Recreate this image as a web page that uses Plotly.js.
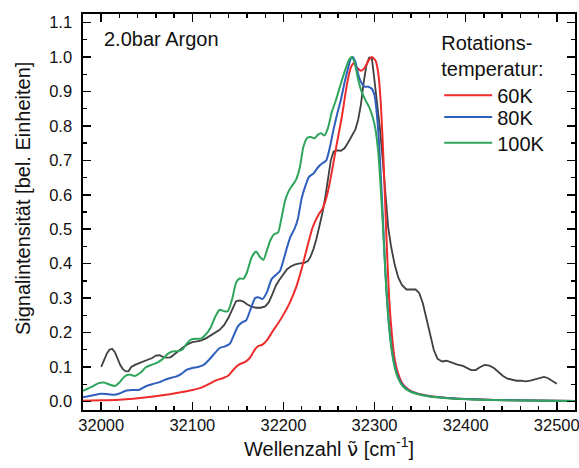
<!DOCTYPE html>
<html>
<head>
<meta charset="utf-8">
<script src="https://cdn.plot.ly/plotly-3.0.1.min.js"></script>
<style>
  html, body { margin: 0; padding: 0; background: #fff; }
  #chart { width: 579px; height: 468px; }
</style>
</head>
<body>
<div id="chart"></div>
<script>
// Measured spectrum (wavenumber in cm^-1, normalised signal)
const nuMeas = [32000,32003,32006,32009,32012,32015,32018,32021,32024,32027,32030,32033,32037,32042,32047,32051,32056,32060,32064,32068,32072,32076,32080,32085,32090,32095,32100,32105,32110,32115,32120,32125,32130,32135,32140,32144,32148,32152,32156,32160,32165,32170,32175,32180,32184,32188,32192,32196,32200,32204,32208,32213,32218,32223,32227,32230,32233,32236,32240,32243,32246,32249,32252,32255,32259,32263,32267,32271,32275,32279,32282,32285,32288,32291,32294,32297,32300,32303,32306,32309,32312,32315,32318,32322,32326,32330,32335,32340,32345,32349,32353,32357,32361,32365,32369,32374,32379,32385,32391,32397,32402,32406,32411,32416,32421,32426,32431,32436,32441,32446,32451,32456,32461,32466,32471,32476,32481,32486,32490,32495,32500];
const intMeas = [0.100,0.120,0.138,0.150,0.153,0.143,0.123,0.105,0.093,0.087,0.088,0.100,0.106,0.112,0.116,0.121,0.126,0.133,0.134,0.129,0.127,0.128,0.136,0.147,0.157,0.166,0.172,0.174,0.177,0.183,0.191,0.199,0.208,0.222,0.245,0.268,0.291,0.293,0.290,0.282,0.275,0.272,0.272,0.276,0.288,0.312,0.338,0.355,0.368,0.384,0.392,0.398,0.401,0.402,0.408,0.422,0.443,0.470,0.515,0.550,0.595,0.645,0.700,0.726,0.729,0.728,0.735,0.752,0.770,0.790,0.818,0.862,0.925,0.975,0.998,0.998,0.930,0.860,0.790,0.700,0.590,0.505,0.452,0.398,0.360,0.338,0.325,0.326,0.325,0.315,0.285,0.240,0.190,0.150,0.124,0.116,0.118,0.112,0.107,0.103,0.097,0.091,0.091,0.100,0.106,0.104,0.097,0.085,0.074,0.066,0.062,0.060,0.060,0.058,0.060,0.064,0.068,0.071,0.068,0.060,0.051];

// Simulated spectra for three rotational temperatures
const nu60 = [31980,32000,32020,32035,32050,32065,32080,32090,32100,32110,32118,32126,32134,32140,32146,32152,32158,32163,32168,32172,32177,32182,32188,32194,32200,32207,32214,32220,32226,32232,32238,32243,32248,32253,32258,32264,32270,32274,32277,32281,32285,32289,32293,32297,32301,32304,32307,32310,32313,32316,32319,32322,32326,32331,32338,32346,32360,32380,32410,32450,32520];
const int60 = [0.002,0.003,0.005,0.008,0.012,0.017,0.023,0.028,0.033,0.040,0.050,0.061,0.068,0.076,0.095,0.108,0.115,0.126,0.148,0.160,0.165,0.178,0.203,0.226,0.252,0.287,0.332,0.385,0.447,0.505,0.540,0.560,0.600,0.665,0.740,0.825,0.925,0.970,0.982,0.968,0.960,0.968,0.988,1.000,0.990,0.955,0.860,0.690,0.480,0.300,0.195,0.125,0.080,0.050,0.033,0.024,0.016,0.010,0.006,0.003,0.001];

const nu80 = [31980,31990,32000,32008,32014,32020,32027,32035,32042,32049,32056,32064,32070,32076,32082,32088,32094,32100,32106,32112,32118,32124,32130,32136,32141,32146,32150,32155,32159,32164,32169,32173,32177,32182,32187,32192,32196,32200,32204,32208,32212,32216,32220,32224,32228,32233,32238,32243,32247,32251,32255,32259,32263,32267,32271,32274,32276,32279,32282,32285,32289,32293,32297,32300,32303,32306,32309,32312,32315,32318,32321,32325,32330,32337,32345,32360,32380,32410,32450,32520];
const int80 = [0.012,0.017,0.022,0.021,0.019,0.023,0.031,0.033,0.034,0.044,0.050,0.056,0.063,0.068,0.072,0.080,0.092,0.097,0.100,0.105,0.120,0.138,0.155,0.160,0.167,0.195,0.218,0.230,0.235,0.268,0.300,0.302,0.297,0.318,0.355,0.368,0.378,0.410,0.448,0.480,0.500,0.532,0.590,0.625,0.652,0.662,0.680,0.692,0.700,0.738,0.790,0.835,0.875,0.925,0.968,0.996,1.000,0.985,0.950,0.928,0.914,0.914,0.908,0.888,0.820,0.700,0.540,0.370,0.250,0.170,0.118,0.078,0.050,0.033,0.024,0.015,0.010,0.006,0.003,0.001];

const nu100 = [31980,31990,31997,32003,32009,32015,32020,32026,32031,32037,32043,32049,32055,32061,32067,32073,32078,32084,32089,32094,32099,32105,32110,32115,32120,32125,32130,32135,32139,32144,32148,32152,32156,32160,32165,32170,32174,32178,32182,32186,32190,32194,32198,32202,32206,32210,32214,32218,32222,32226,32230,32234,32238,32241,32245,32249,32253,32257,32261,32265,32269,32272,32275,32278,32282,32286,32290,32294,32298,32301,32304,32307,32310,32313,32316,32319,32322,32326,32331,32338,32346,32360,32380,32410,32450,32520];
const int100 = [0.031,0.043,0.053,0.055,0.049,0.045,0.055,0.073,0.078,0.074,0.083,0.099,0.106,0.112,0.122,0.138,0.145,0.146,0.150,0.168,0.180,0.182,0.183,0.195,0.214,0.245,0.266,0.262,0.262,0.300,0.345,0.357,0.356,0.375,0.418,0.435,0.420,0.411,0.440,0.470,0.486,0.490,0.535,0.585,0.612,0.628,0.645,0.680,0.740,0.765,0.768,0.764,0.775,0.779,0.772,0.795,0.840,0.870,0.905,0.940,0.972,0.992,1.000,0.985,0.935,0.898,0.875,0.855,0.825,0.790,0.725,0.610,0.470,0.320,0.215,0.145,0.100,0.066,0.044,0.030,0.022,0.014,0.009,0.005,0.003,0.001];

const seriesNames = ['60K', '80K', '100K'];
const xTickVals = [32000, 32100, 32200, 32300, 32400, 32500];

const FONT = 'Arial, "Liberation Sans", sans-serif';
const TEXT = '#111';

const traces = [
  { x: nuMeas, y: intMeas, type: 'scatter', mode: 'lines', showlegend: false,
    line: { color: '#404040', width: 1.8 }, hoverinfo: 'skip' },
  { x: nu60, y: int60, type: 'scatter', mode: 'lines', name: seriesNames[0], legend: 'legend',
    line: { color: '#ee2b2b', width: 2, shape: 'spline', smoothing: 0.6 } },
  { x: nu80, y: int80, type: 'scatter', mode: 'lines', name: seriesNames[1], legend: 'legend2',
    line: { color: '#2f5fbd', width: 2, shape: 'spline', smoothing: 0.6 } },
  { x: nu100, y: int100, type: 'scatter', mode: 'lines', name: seriesNames[2], legend: 'legend3',
    line: { color: '#2ea55a', width: 2, shape: 'spline', smoothing: 0.6 } }
];

const axisCommon = {
  showline: true, linecolor: '#000', linewidth: 1.6, mirror: 'allticks',
  ticks: 'inside', ticklen: 8, tickwidth: 1.5, tickcolor: '#000',
  showgrid: false, zeroline: false, ticklabeloverflow: 'allow',
  tickfont: { family: FONT, size: 16.5, color: TEXT }
};

// one legend box per entry so the rows sit at the chosen spacing
function legendBox(y, withTitle) {
  const box = {
    x: 0.724, y: y, xanchor: 'left', yanchor: 'top',
    bgcolor: 'rgba(0,0,0,0)', borderwidth: 0, itemwidth: 48,
    font: { family: FONT, size: 20, color: TEXT }
  };
  if (withTitle) {
    box.title = { text: 'Rotations-<br>temperatur:', font: { family: FONT, size: 20, color: TEXT } };
  }
  return box;
}

const layout = {
  width: 579, height: 468,
  margin: { l: 83, r: 4, t: 14, b: 58 },
  paper_bgcolor: '#fff', plot_bgcolor: '#fff',
  font: { family: FONT, color: TEXT },
  showlegend: true,
  legend: legendBox(0.9755, true),
  legend2: legendBox(0.789, false),
  legend3: legendBox(0.724, false),
  xaxis: Object.assign({}, axisCommon, {
    range: [31980, 32520], tickvals: xTickVals, tickformat: 'd',
    minor: { dtick: 20, tick0: 32000, ticks: 'inside', ticklen: 4, tickwidth: 1.3, tickcolor: '#000' },
    ticklabelstandoff: 0,
    title: {
      text: 'Wellenzahl <span style="font-family:\'DejaVu Sans\'">ν̃</span> [cm<sup>-1</sup>]',
      font: { family: FONT, size: 20, color: TEXT }, standoff: 8
    }
  }),
  yaxis: Object.assign({}, axisCommon, {
    range: [-0.025, 1.125], dtick: 0.1, tick0: 0, tickformat: '.1f',
    minor: { dtick: 0.05, tick0: 0, ticks: 'inside', ticklen: 4, tickwidth: 1.3, tickcolor: '#000' },
    ticklabelstandoff: 6
  }),
  annotations: [
    { text: '2.0bar Argon', xref: 'paper', yref: 'paper', x: 0.038, y: 0.937,
      xanchor: 'left', yanchor: 'middle', showarrow: false,
      font: { family: FONT, size: 20, color: TEXT } },
    { text: 'Signalintensität [bel. Einheiten]', xref: 'paper', yref: 'paper',
      x: -0.122, y: 0.535, xanchor: 'center', yanchor: 'middle', textangle: -90,
      showarrow: false, font: { family: FONT, size: 20, color: TEXT } }
  ]
};

Plotly.newPlot('chart', traces, layout, { staticPlot: true, displayModeBar: false });
</script>
</body>
</html>
